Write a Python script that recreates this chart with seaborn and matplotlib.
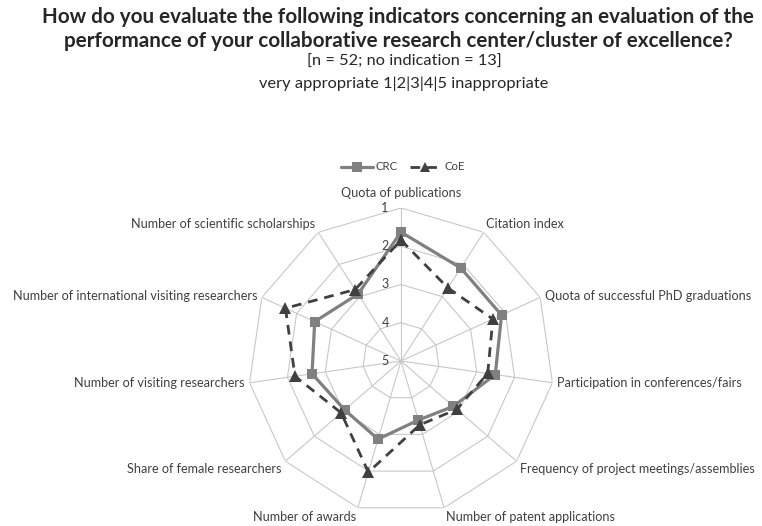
import numpy as np
import pandas as pd
import matplotlib
matplotlib.use("Agg")
import matplotlib.pyplot as plt
import matplotlib.transforms as mtransforms
from matplotlib.lines import Line2D
import seaborn as sns

categories = [
    "Quota of publications",
    "Citation index",
    "Quota of successful PhD graduations",
    "Participation in conferences/fairs",
    "Frequency of project meetings/assemblies",
    "Number of patent applications",
    "Number of awards",
    "Share of female researchers",
    "Number of visiting researchers",
    "Number of international visiting researchers",
    "Number of scientific scholarships",
]
crc = [1.63, 2.11, 2.11, 2.51, 3.19, 3.39, 2.87, 3.05, 2.65, 2.52, 2.92]
coe = [1.84, 2.73, 2.36, 2.71, 3.07, 3.26, 1.97, 2.93, 2.20, 1.68, 2.78]
scale_ticks = [1, 2, 3, 4, 5]

title_lines = ["How do you evaluate the following indicators concerning an evaluation of the",
               "performance of your collaborative research center/cluster of excellence?"]
subtitle_lines = ["[n = 52; no indication = 13]",
                  "very appropriate 1|2|3|4|5 inappropriate"]

sns.set_theme(style="white")
plt.rcParams["font.family"] = ["Lato", "DejaVu Sans"]

W, H = 762, 526
fig = plt.figure(figsize=(W / 100, H / 100), dpi=100)
fig.patch.set_facecolor("white")

cx, cy, R = 401, 361, 153
ax = fig.add_axes([(cx - R) / W, (H - cy - R) / H, 2 * R / W, 2 * R / H], projection="polar")
ax.set_theta_offset(np.pi / 2)
ax.set_theta_direction(-1)
ax.set_ylim(5, 1)
ax.grid(False)
ax.set_xticks([])
ax.set_yticks([])
ax.spines["polar"].set_visible(False)
ax.set_facecolor("none")

n = len(categories)
angles = np.arange(n) * 2 * np.pi / n
ang_closed = np.append(angles, angles[0])

grid_col = "#c8c8c8"
for v in scale_ticks[:-1]:
    ax.plot(ang_closed, [v] * (n + 1), color=grid_col, lw=0.8, zorder=1)
for a in angles:
    ax.plot([a, a], [5, 1], color=grid_col, lw=0.8, zorder=1)

rows = []
for name, vals in [("CRC", crc), ("CoE", coe)]:
    for i in list(range(n)) + [0]:
        rows.append({"series": name, "angle": angles[i], "value": vals[i]})
df = pd.DataFrame(rows)

crc_col = "#808080"
coe_col = "#404040"
sns.lineplot(data=df[df.series == "CRC"], x="angle", y="value", sort=False, ax=ax,
             color=crc_col, lw=2.3, marker="s", markersize=7.5, markeredgewidth=0,
             estimator=None, zorder=3)
sns.lineplot(data=df[df.series == "CoE"], x="angle", y="value", sort=False, ax=ax,
             color=coe_col, lw=2.0, marker="^", markersize=8.5, markeredgewidth=0,
             estimator=None, zorder=4, dashes=(3.5, 2.5))
ax.set_xlabel("")
ax.set_ylabel("")
ax.set_ylim(5, 1)

# radial scale labels
off = mtransforms.ScaledTranslation(-16 / 100, 0, fig.dpi_scale_trans)
for v in scale_ticks:
    ax.text(0, v, str(v), transform=ax.transData + off, ha="center", va="center",
            fontsize=9, color="#404040", zorder=5)

# category labels
for a, lab in zip(angles, categories):
    s, c = np.sin(a), np.cos(a)
    if abs(s) < 0.1:
        ha = "center"
    elif s > 0:
        ha = "left"
    else:
        ha = "right"
    if c > 0.7:
        va = "bottom"
    elif c < -0.5:
        va = "top"
    else:
        va = "center"
    dxp = 5 * s
    dyp = 3 * c if abs(s) > 0.1 else 9
    o = mtransforms.ScaledTranslation(dxp / 100, dyp / 100, fig.dpi_scale_trans)
    ax.text(a, 1, lab, transform=ax.transData + o, ha=ha, va=va, fontsize=9.1,
            color="#404040", clip_on=False)

# legend
handles = [Line2D([], [], color=crc_col, lw=2.3, marker="s", markersize=6.5, markeredgewidth=0),
           Line2D([], [], color=coe_col, lw=2.0, marker="^", markersize=7.5, markeredgewidth=0,
                  dashes=(3.5, 2.5))]
fig.legend(handles, ["CRC", "CoE"], loc="center", bbox_to_anchor=(403 / W, 1 - 167 / H),
           ncol=2, frameon=False, fontsize=8.2, handlelength=2.8, columnspacing=1.0,
           handletextpad=0.3, labelcolor="#404040")

# titles
fig.text(398 / W, 1 - 17 / H, title_lines[0], ha="center", va="center", fontsize=14.9,
         fontweight="bold", color="#262626")
fig.text(398 / W, 1 - 41 / H, title_lines[1], ha="center", va="center", fontsize=14.9,
         fontweight="bold", color="#262626")
fig.text(404 / W, 1 - 62 / H, subtitle_lines[0], ha="center", va="center", fontsize=11.8,
         color="#262626")
fig.text(404 / W, 1 - 84 / H, subtitle_lines[1], ha="center", va="center", fontsize=11.8,
         color="#262626")

fig.savefig("out.png", dpi=100, facecolor="white")
